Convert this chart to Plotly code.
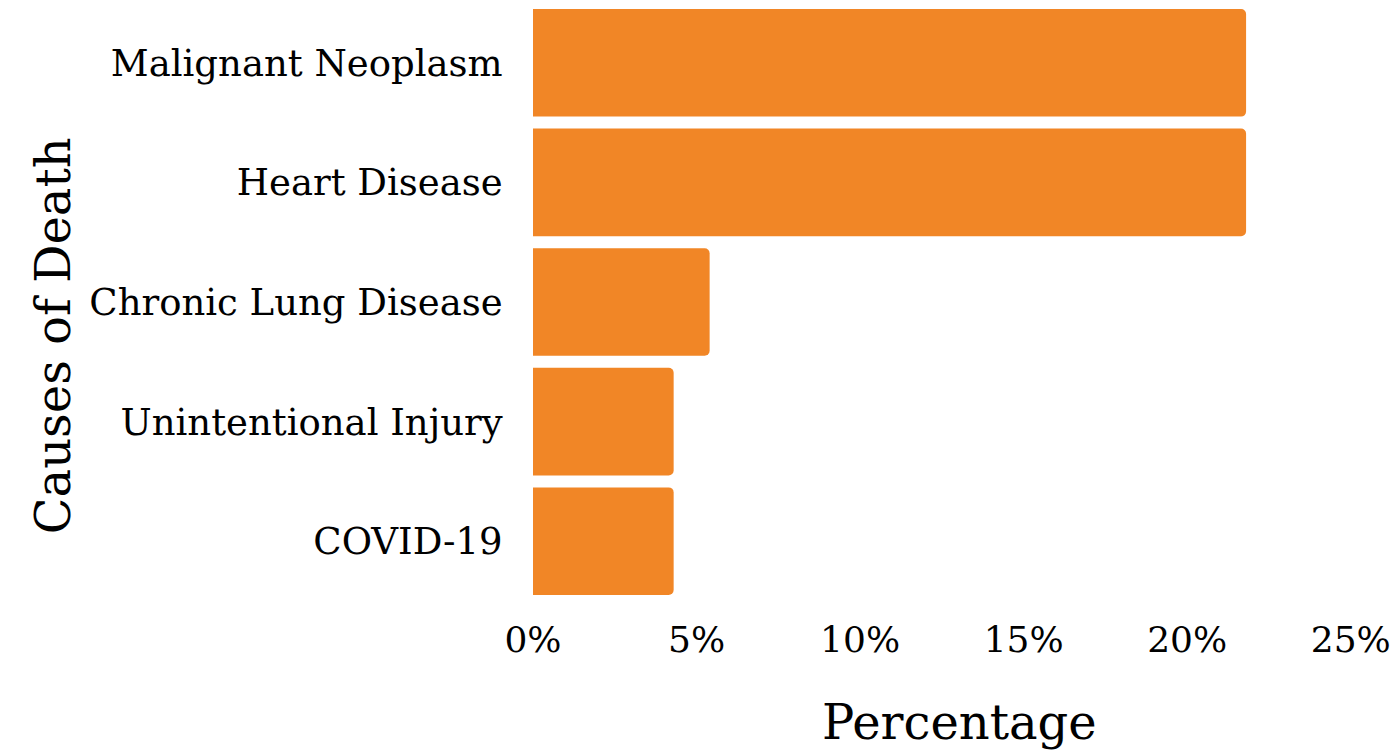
import plotly.graph_objects as go

causes = ["Malignant Neoplasm", "Heart Disease", "Chronic Lung Disease",
          "Unintentional Injury", "COVID-19"]
percentages = [21.8, 21.8, 5.4, 4.3, 4.3]
tick_vals = [0, 5, 10, 15, 20, 25]
tick_text = ["0%", "5%", "10%", "15%", "20%", "25%"]

FONT = "Georgia, 'DejaVu Serif', serif"

fig = go.Figure(go.Bar(
    x=percentages, y=causes, orientation="h",
    marker=dict(color="#F18626", line=dict(width=0)),
))

fig.update_layout(
    width=1394, height=752,
    margin=dict(l=533, r=4, t=3, b=151),
    plot_bgcolor="white", paper_bgcolor="white",
    bargap=0.1, barcornerradius=5,
    font=dict(family=FONT, color="black"),
    showlegend=False,
    annotations=[
        dict(text="Percentage", xref="paper", yref="paper", x=0.498, y=-0.202,
             yanchor="middle", xanchor="center", showarrow=False,
             font=dict(size=48, family=FONT)),
        dict(text="Causes of Death", xref="paper", yref="paper", x=-0.560, y=0.443,
             textangle=-90, xanchor="center", yanchor="middle", showarrow=False,
             font=dict(size=48, family=FONT)),
    ],
)
fig.update_xaxes(range=[0, 26.2], tickvals=tick_vals, ticktext=tick_text,
                 showgrid=False, zeroline=False, showline=False,
                 ticks="outside", ticklen=7, tickcolor="rgba(0,0,0,0)",
                 tickfont=dict(size=36, family=FONT))
fig.update_yaxes(autorange="reversed", showgrid=False, zeroline=False, showline=False,
                 ticks="outside", ticklen=22, tickcolor="rgba(0,0,0,0)",
                 tickfont=dict(size=37, family=FONT))

fig.write_html("out.html", config={"displayModeBar": False},
               post_script="document.body.style.margin='0px';")
